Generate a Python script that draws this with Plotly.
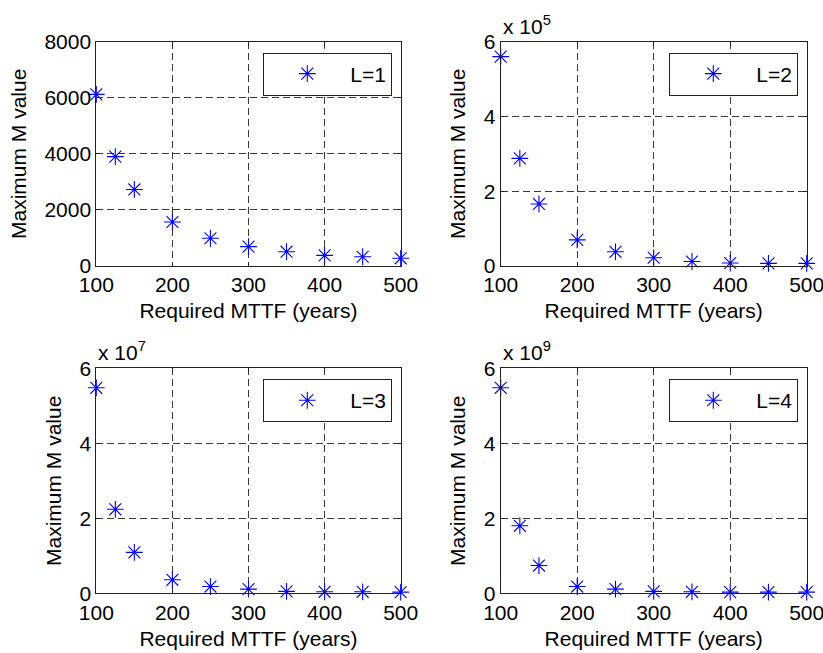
import plotly.graph_objects as go

# Required MTTF (years) on the x axis, shared by every panel
mttf_years = [100, 125, 150, 200, 250, 300, 350, 400, 450, 500]
x_ticks = [100, 200, 300, 400, 500]

# Maximum M value for each number of levels L
max_m_l1 = [6120, 3900, 2730, 1570, 990, 690, 510, 380, 330, 275]
max_m_l2 = [5.60e5, 2.88e5, 1.66e5, 0.70e5, 0.38e5, 0.22e5, 0.12e5, 0.08e5, 0.07e5, 0.07e5]
max_m_l3 = [5.48e7, 2.24e7, 1.09e7, 0.36e7, 0.18e7, 0.11e7, 0.05e7, 0.04e7, 0.04e7, 0.03e7]
max_m_l4 = [5.48e9, 1.80e9, 0.74e9, 0.18e9, 0.11e9, 0.05e9, 0.04e9, 0.03e9, 0.03e9, 0.03e9]

series = [
    ("L=1", max_m_l1, 0, [0, 2000, 4000, 6000, 8000], 8000),
    ("L=2", max_m_l2, 5, [0, 2, 4, 6], 6),
    ("L=3", max_m_l3, 7, [0, 2, 4, 6], 6),
    ("L=4", max_m_l4, 9, [0, 2, 4, 6], 6),
]

W, H = 823, 653
FONT = "Liberation Sans, Arial, sans-serif"
FS = 21

# panel frames in pixels: (left, right, top, bottom)
frames = [
    (96.3, 400.7, 41.7, 266.0),
    (500.7, 806.7, 41.7, 266.0),
    (96.3, 400.7, 368.3, 593.3),
    (500.7, 806.7, 368.3, 593.3),
]

fig = go.Figure()
layout = dict(
    width=W, height=H,
    margin=dict(l=0, r=0, t=0, b=0),
    paper_bgcolor="white", plot_bgcolor="white",
    font=dict(family=FONT, size=FS, color="black"),
    showlegend=True,
    annotations=[],
)

for i, (name, vals, exp, yticks, ymax) in enumerate(series):
    n = "" if i == 0 else str(i + 1)
    left, right, top, bottom = frames[i]
    scale = 10 ** exp
    leg = "legend" if i == 0 else f"legend{i + 1}"
    fig.add_trace(go.Scatter(
        x=mttf_years, y=[v / scale for v in vals], mode="markers",
        name=name, legend=leg, cliponaxis=False,
        marker=dict(symbol="asterisk-open", size=14, color="#0000ff",
                    line=dict(color="#0000ff", width=1.1)),
        xaxis=f"x{n}", yaxis=f"y{n}",
    ))
    axis_common = dict(
        showline=True, linecolor="#222", linewidth=1, mirror="ticks",
        ticks="inside", ticklen=4, tickcolor="#222", tickwidth=1,
        showgrid=True, gridcolor="#3a3a3a", gridwidth=1, griddash="7px,4px",
        zeroline=False, automargin=False, ticklabeloverflow="allow",
        tickfont=dict(family=FONT, size=FS, color="black"),
    )
    layout[f"xaxis{n}"] = dict(
        axis_common,
        domain=[left / W, right / W], anchor=f"y{n}",
        range=[100, 500], tickvals=x_ticks,
        title=dict(text="Required MTTF (years)", standoff=8,
                   font=dict(family=FONT, size=FS)),
    )
    layout[f"yaxis{n}"] = dict(
        axis_common,
        domain=[1 - bottom / H, 1 - top / H], anchor=f"x{n}",
        range=[0, ymax], tickvals=yticks,
        title=dict(text="Maximum M value", standoff=12,
                   font=dict(family=FONT, size=FS)),
    )
    layout[leg] = dict(
        x=(right - 8.4) / W, xanchor="right",
        y=1 - (top + 10.8) / H, yanchor="top",
        bgcolor="white", bordercolor="#222", borderwidth=1,
        font=dict(family=FONT, size=FS), itemwidth=76,
        itemclick=False, itemdoubleclick=False,
    )
    if exp:
        layout["annotations"].append(dict(
            text=f"x 10<sup>{exp}</sup>", xref="paper", yref="paper",
            x=left / W, y=1 - (top - 2) / H, xanchor="left", yanchor="bottom",
            showarrow=False, font=dict(family=FONT, size=FS),
        ))

fig.update_layout(**layout)
fig.write_html("out.html")
